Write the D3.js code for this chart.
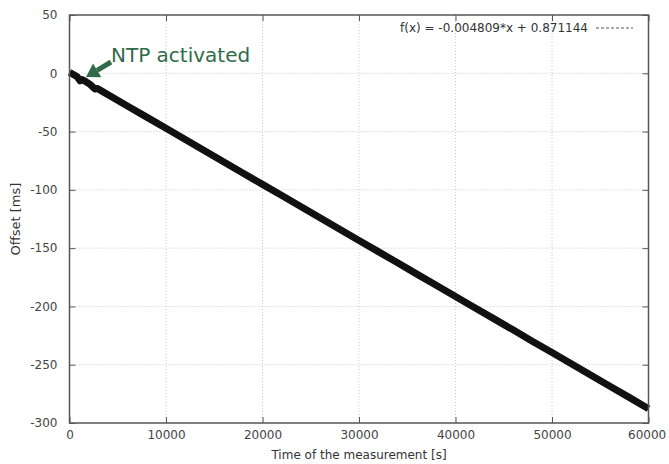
<!DOCTYPE html>
<html><head><meta charset="utf-8">
<script src="https://cdn.jsdelivr.net/npm/d3@7"></script>
<style>body{margin:0;background:#fff}svg{display:block}text{font-family:"DejaVu Sans",sans-serif}</style>
</head><body><svg id="c" width="669" height="464"></svg>
<script>
const xTicks = [0,10000,20000,30000,40000,50000,60000];
const yTicks = [50,0,-50,-100,-150,-200,-250,-300];
const times   = [0,400,800,1090,1300,1700,2100,2640,2900,3400,4000,6000,8000,10000,12000,14000,16000,18000,20000,22000,24000,26000,28000,30000,32000,34000,36000,38000,40000,42000,44000,46000,48000,50000,52000,54000,56000,58000,60000];
const offsets = [0.9,-1.0,-3.0,-6.5,-5.4,-7.2,-9.3,-13.5,-13.1,-15.5,-18.4,-28.0,-37.6,-47.2,-56.8,-66.5,-76.1,-85.7,-95.3,-104.9,-114.5,-124.2,-133.8,-143.4,-153.0,-162.6,-172.3,-181.9,-191.5,-201.1,-210.7,-220.3,-230.0,-239.6,-249.2,-258.8,-268.4,-278.0,-287.7];
const fitSlope = -0.004809, fitIntercept = 0.871144;
const fitLabel = "f(x) = -0.004809*x + 0.871144";

const svg = d3.select("#c");
const L=69.5,R=648.5,T=15,B=423;
const x = d3.scaleLinear().domain([0,60000]).range([L,R]);
const y = d3.scaleLinear().domain([-300,50]).range([B,T]);

// grid
const g = svg.append("g");
g.selectAll(".gx").data(xTicks.slice(1,-1)).join("line")
  .attr("x1",d=>x(d)).attr("x2",d=>x(d)).attr("y1",T).attr("y2",B)
  .attr("stroke","#c8c8c8").attr("stroke-width",1).attr("stroke-dasharray","1,2");
g.selectAll(".gy").data(yTicks.slice(1,-1)).join("line")
  .attr("y1",d=>y(d)).attr("y2",d=>y(d)).attr("x1",L).attr("x2",R)
  .attr("stroke","#c8c8c8").attr("stroke-width",1).attr("stroke-dasharray","1,2");

// axes (inward ticks, mirrored)
const fmt = d => String(d);
const axB = svg.append("g").attr("transform",`translate(0,${B})`)
  .call(d3.axisBottom(x).tickValues(xTicks).tickSize(-6).tickPadding(12).tickFormat(fmt));
const axT = svg.append("g").attr("transform",`translate(0,${T})`)
  .call(d3.axisTop(x).tickValues(xTicks).tickSize(-6).tickFormat(""));
const axL = svg.append("g").attr("transform",`translate(${L},0)`)
  .call(d3.axisLeft(y).tickValues(yTicks).tickSize(-6).tickPadding(12).tickFormat(fmt));
const axRr = svg.append("g").attr("transform",`translate(${R},0)`)
  .call(d3.axisRight(y).tickValues(yTicks).tickSize(-6).tickFormat(""));
[axB,axT,axL,axRr].forEach(a=>{
  a.select(".domain").remove();
  a.selectAll("line").attr("stroke","#555");
  a.selectAll("text").attr("fill","#444").style("font-size","12px").style("font-family","DejaVu Sans, sans-serif");
});
axB.selectAll("text").attr("dy","0.35em");
axB.selectAll(".tick").filter(d=>d===60000).select("text").attr("text-anchor","start").attr("dx","-21");

// fit line (beneath)
svg.append("line").attr("x1",x(0)).attr("x2",x(60000))
  .attr("y1",y(fitIntercept)).attr("y2",y(fitSlope*60000+fitIntercept))
  .attr("stroke","#333").attr("stroke-dasharray","3,3");

// data
svg.append("path").datum(times.map((t,i)=>[t,offsets[i]]))
  .attr("d",d3.line().x(d=>x(d[0])).y(d=>y(d[1])))
  .attr("fill","none").attr("stroke","#111").attr("stroke-width",7).attr("stroke-linejoin","round");

// frame
svg.append("rect").attr("x",L).attr("y",T).attr("width",R-L).attr("height",B-T)
  .attr("fill","none").attr("stroke","#555").attr("stroke-width",1.5);

// legend
svg.append("text").attr("x",588).attr("y",32).attr("text-anchor","end")
  .style("font-size","12px").attr("fill","#333").text(fitLabel);
svg.append("line").attr("x1",596).attr("x2",633).attr("y1",28).attr("y2",28)
  .attr("stroke","#555").attr("stroke-dasharray","3,2");

// annotation
const green="#2f6b48";
svg.append("text").attr("x",111).attr("y",62).style("font-size","20px").attr("fill",green).text("NTP activated");
const x0=111,y0=62,x1=86,y1=77;
const ang=Math.atan2(y1-y0,x1-x0);
const hl=13, hw=8;
const bx=x1-hl*Math.cos(ang), by=y1-hl*Math.sin(ang);
svg.append("line").attr("x1",x0).attr("y1",y0).attr("x2",bx).attr("y2",by)
  .attr("stroke",green).attr("stroke-width",5);
svg.append("path").attr("fill",green).attr("d",
  `M${x1},${y1} L${bx+hw*Math.sin(ang)},${by-hw*Math.cos(ang)} L${bx-hw*Math.sin(ang)},${by+hw*Math.cos(ang)} Z`);

// axis titles
svg.append("text").attr("x",359).attr("y",459).attr("text-anchor","middle")
  .style("font-size","12px").attr("fill","#333").text("Time of the measurement [s]");
svg.append("text").attr("transform","translate(20,219) rotate(-90)").attr("text-anchor","middle")
  .style("font-size","13px").attr("fill","#333").text("Offset [ms]");
</script></body></html>
